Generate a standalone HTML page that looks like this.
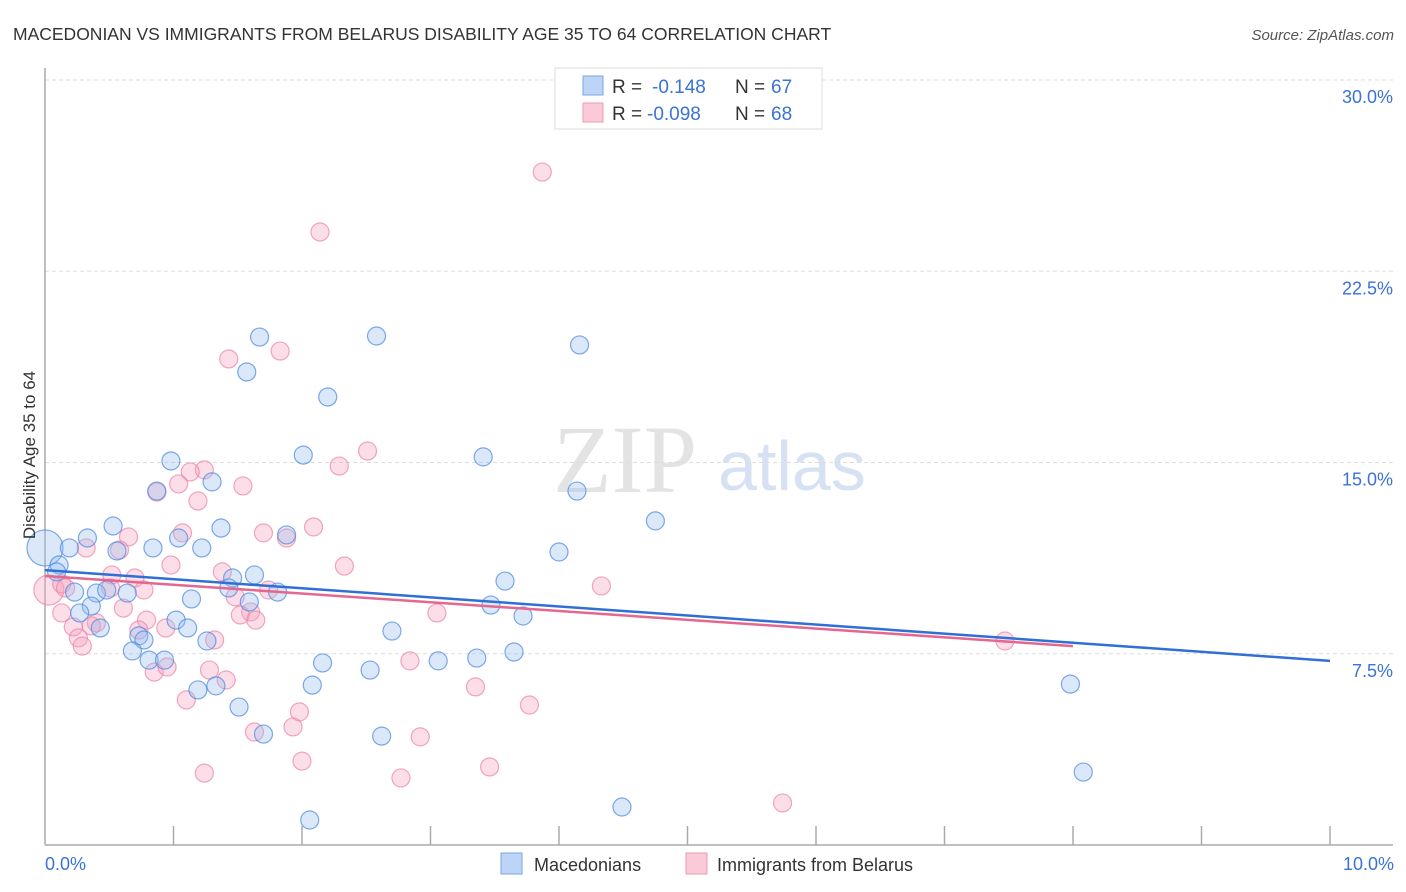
<!DOCTYPE html>
<html><head><meta charset="utf-8"><style>
body{margin:0;background:#fff;font-family:"Liberation Sans",sans-serif;}
svg{display:block}
</style></head><body>
<svg id="chart" width="1406" height="892">
<text x="13" y="40" font-size="17.5" fill="#333">MACEDONIAN VS IMMIGRANTS FROM BELARUS DISABILITY AGE 35 TO 64 CORRELATION CHART</text>
<text x="1394" y="40" font-size="15" fill="#555" font-style="italic" text-anchor="end">Source: ZipAtlas.com</text>
<g>
<text x="553" y="492" font-family="Liberation Serif,serif" font-size="96" fill="#d8d8d8" opacity="0.7">ZIP</text>
<text x="718" y="490" font-size="70" fill="#c5d6ee" opacity="0.7">atlas</text>
</g>
<g id="grid"></g>
<g id="axes"></g>
<g id="points"></g>
<g id="trends"></g>
<text x="35" y="455" font-size="17" fill="#333" text-anchor="middle" transform="rotate(-90 35 455)">Disability Age 35 to 64</text>
<g>
<rect x="555" y="68" width="267" height="61" fill="#fff" stroke="#ddd"/>
<rect x="583" y="76" width="20" height="19" fill="#bcd4f5" stroke="#7aa6e6"/>
<rect x="583" y="103" width="20" height="19" fill="#fbcad8" stroke="#ee9ab2"/>
<text x="612" y="93" font-size="19" fill="#333">R =</text>
<text x="652" y="93" font-size="19" fill="#3a72d8">-0.148</text>
<text x="735" y="93" font-size="19" fill="#333">N =</text>
<text x="771" y="93" font-size="19" fill="#3a72d8">67</text>
<text x="612" y="120" font-size="19" fill="#333">R =</text>
<text x="647" y="120" font-size="19" fill="#3a72d8">-0.098</text>
<text x="735" y="120" font-size="19" fill="#333">N =</text>
<text x="771" y="120" font-size="19" fill="#3a72d8">68</text>
</g>
<g>
<rect x="501" y="853" width="21" height="21" fill="#bcd4f5" stroke="#7aa6e6"/>
<text x="534" y="871" font-size="18" fill="#333">Macedonians</text>
<rect x="686" y="853" width="21" height="21" fill="#fbcad8" stroke="#ee9ab2"/>
<text x="717" y="871" font-size="18" fill="#333">Immigrants from Belarus</text>
</g>
</svg>
<script>
const yTicks=[7.5,15,22.5,30];
const yTickLabels=["7.5%","15.0%","22.5%","30.0%"];
const xTicks=[0,1,2,3,4,5,6,7,8,9,10];
const blueX=[1.67,2.58,4.16,1.57,2.20,0.98,2.01,3.41,1.30,0.87,4.14,4.75,0.53,1.37,0.33,1.04,1.88,0.19,0.84,1.22,0.56,4.00,0.11,0.09,1.63,1.46,3.58,0.40,0.64,0.48,1.81,0.23,1.14,1.43,1.59,0.36,0.27,3.47,3.72,1.02,0.43,1.11,2.70,0.73,0.77,1.26,0.68,3.65,0.81,0.93,2.16,3.06,3.36,2.53,2.08,1.19,1.33,7.98,1.51,1.70,2.62,8.08,4.49,2.06];
const blueY=[19.92,19.96,19.61,18.55,17.57,15.06,15.29,15.22,14.24,13.88,13.88,12.71,12.51,12.43,12.04,12.04,12.16,11.65,11.65,11.65,11.53,11.49,10.98,10.71,10.59,10.47,10.35,9.88,9.88,10.00,9.92,9.92,9.65,10.08,9.53,9.37,9.10,9.41,8.98,8.82,8.51,8.51,8.39,8.20,8.04,8.00,7.61,7.57,7.25,7.25,7.14,7.22,7.33,6.86,6.27,6.08,6.24,6.31,5.41,4.35,4.27,2.86,1.49,0.98];
const pinkX=[3.87,2.14,1.83,1.43,2.51,2.29,1.24,1.13,1.04,1.54,0.87,1.19,2.09,1.07,1.70,1.88,0.65,0.32,0.58,2.33,0.98,4.33,1.38,0.52,0.70,0.77,1.48,1.74,0.13,0.16,0.51,1.60,1.52,1.64,0.79,0.61,0.13,3.05,0.40,0.22,0.36,0.94,0.73,0.26,0.29,1.32,7.47,2.84,1.28,0.85,0.95,1.41,3.35,1.10,3.77,1.98,1.93,1.63,2.92,2.00,3.46,1.24,2.77,5.74];
const pinkY=[26.39,24.04,19.37,19.06,15.45,14.86,14.71,14.63,14.16,14.08,13.84,13.49,12.47,12.24,12.24,12.04,12.08,11.65,11.57,10.94,10.98,10.16,10.71,10.59,10.47,10.00,9.73,10.00,10.24,10.08,10.08,9.14,9.02,8.82,8.82,9.29,9.10,9.10,8.71,8.55,8.59,8.51,8.43,8.12,7.80,8.04,8.00,7.22,6.86,6.78,6.98,6.47,6.20,5.69,5.49,5.22,4.63,4.43,4.24,3.29,3.06,2.82,2.63,1.65];
const bigBlue=[0.0,11.65];
const bigPink=[0.03,10.0];
const blueTrend=[0,10.78,10,7.22];
const pinkTrend=[0,10.55,8,7.80];
const NS="http://www.w3.org/2000/svg";
const X0=45,X1=1330,Y0=845,PER=25.5;
const xs=v=>X0+(X1-X0)*v/10;
const ys=v=>Y0-v*PER;
function mk(tag,attrs,parent){const e=document.createElementNS(NS,tag);for(const k in attrs)e.setAttribute(k,attrs[k]);document.getElementById(parent).appendChild(e);return e;}
yTicks.forEach((t,i)=>{
  const l=mk('line',{x1:X0,x2:1393,y1:ys(t),y2:ys(t),stroke:'#ddd','stroke-dasharray':'4,3'},'grid');
  
  
  const tx=mk('text',{x:1393,y:ys(t)+23,'font-size':18,fill:'#3a72d8','text-anchor':'end'},'grid');
  tx.textContent=yTickLabels[i];
  
  
});
const ax=mk('line',{x1:X0,x2:X0,y1:68,y2:Y0,stroke:'#aaa','stroke-width':1.5},'axes');


const bx=mk('line',{x1:X0,x2:1393,y1:Y0,y2:Y0,stroke:'#aaa','stroke-width':1.5},'axes');


xTicks.slice(1).forEach(t=>{
  const l=mk('line',{x1:xs(t),x2:xs(t),y1:826,y2:Y0,stroke:'#aaa','stroke-width':1.5},'axes');
  
  
});
const xl0=mk('text',{x:X0,y:870,'font-size':18,fill:'#3a72d8'},'axes');xl0.textContent='0.0%';


const xl1=mk('text',{x:1394,y:870,'font-size':18,fill:'#3a72d8','text-anchor':'end'},'axes');xl1.textContent='10.0%';


function dot(x,y,r,blue){
  const c=mk('circle',{cx:xs(x),cy:ys(y),r:r,fill:blue?'rgba(150,188,240,0.35)':'rgba(246,160,188,0.35)',stroke:blue?'rgba(80,140,225,0.75)':'rgba(235,130,165,0.7)','stroke-width':1.2},'points');
  
  
}
dot(bigPink[0],bigPink[1],15,false);
dot(bigBlue[0],bigBlue[1],18,true);
pinkX.forEach((x,i)=>dot(x,pinkY[i],9,false));
blueX.forEach((x,i)=>dot(x,blueY[i],9,true));
const bt=mk('line',{x1:xs(blueTrend[0]),y1:ys(blueTrend[1]),x2:xs(blueTrend[2]),y2:ys(blueTrend[3]),stroke:'#2f6fd6','stroke-width':2.5},'trends');


const pt=mk('line',{x1:xs(pinkTrend[0]),y1:ys(pinkTrend[1]),x2:xs(pinkTrend[2]),y2:ys(pinkTrend[3]),stroke:'#e4678f','stroke-width':2.5},'trends');


</script>
</body></html>
